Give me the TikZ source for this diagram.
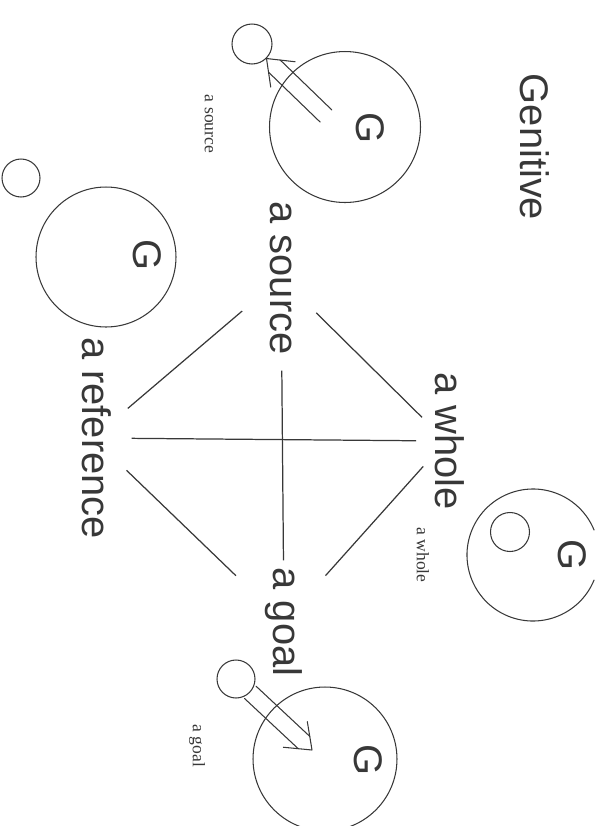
\documentclass[tikz,border=0pt]{standalone}
\usepackage{fontspec}
\setmainfont{Liberation Sans}
\newfontfamily\tagfont{Liberation Serif}
\usetikzlibrary{calc}

\definecolor{ink}{gray}{0.22}

% hollow double-shaft arrow from #1 to the tip #2
\newcommand{\hollowarrow}[2]{%
  \draw[shaft] ($(#1)!4.8pt!90:(#2)$) -- ($(#2)!6.2pt!(#1)!4.8pt!-90:(#1)$);
  \draw[shaft] ($(#1)!4.8pt!-90:(#2)$) -- ($(#2)!6.2pt!(#1)!4.8pt!90:(#1)$);
  \draw[shaft] ($(#2)!13pt!(#1)!10pt!90:(#1)$) -- (#2) -- ($(#2)!13pt!(#1)!10pt!-90:(#1)$);
}

\begin{document}
\begin{tikzpicture}[x=0.02cm, y=-0.02cm,
    word/.style={font=\fontsize{22.7}{27}\selectfont, text=ink, rotate=-90, text height=17pt, text depth=4.5pt, inner sep=2pt},
    gee/.style={font=\fontsize{22.7}{27}\selectfont, text=ink, rotate=-90, inner sep=0pt},
    tag/.style={font=\tagfont\fontsize{10}{12}\selectfont, text=ink, rotate=-90, inner sep=1pt},
    ring/.style={circle, draw=ink, line width=0.6pt, inner sep=0pt},
    link/.style={draw=ink, line width=0.7pt},
    shaft/.style={draw=ink, line width=0.6pt, line cap=round, line join=round}
  ]
  \useasboundingbox (0,0) rectangle (609,826);

  % --- TITLE ---
  \node[word] (title) at (531,147) {Genitive};

  % --- CENTRAL DIAMOND ---
  \node[word] (src) at (281,278) {a source};
  \node[word] (ref) at (93,438) {a reference};
  \node[word] (whole) at (446,441) {a whole};
  \node[word] (goal) at (284,622) {a goal};

  \draw[link, shorten <=7pt, shorten >=2pt] (src) -- (goal);
  \draw[link, shorten <=9pt, shorten >=4pt] (ref) -- (whole);
  \draw[link, shorten <=10pt, shorten >=1pt] (src) -- (whole);
  \draw[link, shorten <=12pt, shorten >=9pt] (src) -- (ref);
  \draw[link, shorten <=8.5pt, shorten >=20pt] (ref) -- (goal);
  \draw[link, shorten <=16pt] (goal) -- (whole);

  % --- G AS A SOURCE ---
  \node[ring, minimum size=3.02cm] (srcG) at (345,127) {};
  \node[gee] (srcGlabel) at (370,128) {G};
  \node[ring, minimum size=0.8cm] (srcdot) at (252,44) {};
  \coordinate (srcfoot) at (326,116);
  \hollowarrow{srcfoot}{srcdot.-45}
  \node[tag] (srctag) at (209,124) {a source};

  % --- G AS A REFERENCE ---
  \node[ring, minimum size=2.8cm] (refG) at (106,257) {};
  \node[gee] (refGlabel) at (147,255) {G};
  \node[ring, minimum size=0.76cm] (refdot) at (21,178) {};

  % --- G AS A WHOLE ---
  \draw[ink, line width=0.6pt] (533,555) ++(22:66) arc (22:338:66);
  \node[gee] (wholeGlabel) at (572,555) {G};
  \node[ring, minimum size=0.78cm] (wholedot) at (510,532) {};
  \node[tag] (wholetag) at (423,555) {a whole};

  % --- G AS A GOAL ---
  \node[ring, minimum size=2.88cm] (goalG) at (325,759) {};
  \node[gee] (goalGlabel) at (368,760) {G};
  \node[ring, minimum size=0.76cm] (goaldot) at (236,679) {};
  \coordinate (goaltip) at (312,750);
  \hollowarrow{goaldot.-43}{goaltip}
  \node[tag] (goaltag) at (197,746) {a goal};
\end{tikzpicture}
\end{document}
